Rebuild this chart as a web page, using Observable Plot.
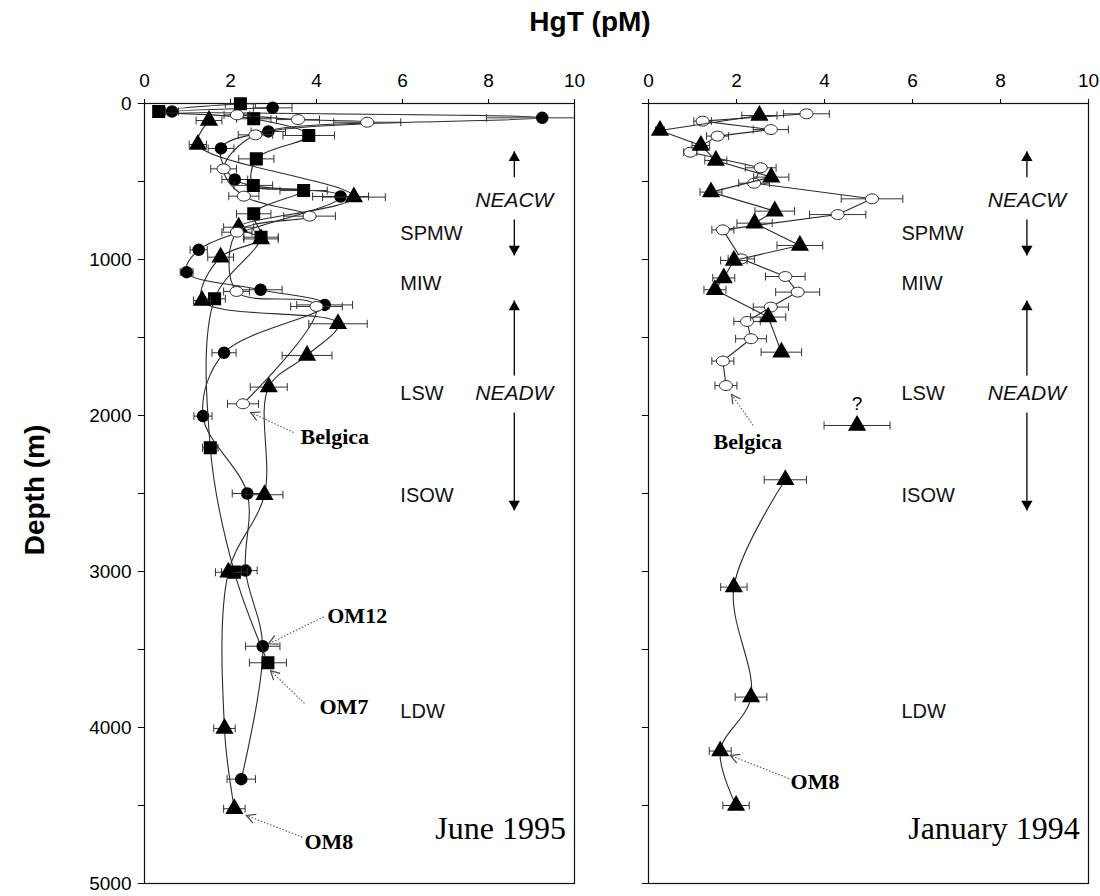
<!DOCTYPE html>
<html><head><meta charset="utf-8">
<script src="https://cdn.jsdelivr.net/npm/d3@7"></script>
<script src="https://cdn.jsdelivr.net/npm/@observablehq/plot@0.6"></script>
<style>
body{margin:0;background:#fff;}
#wrap{position:relative;width:1100px;height:896px;overflow:hidden;font-family:Arial,"Liberation Sans",sans-serif;color:#000;}
#title{position:absolute;left:440px;width:300px;top:4px;text-align:center;font-weight:bold;font-size:28px;line-height:36px;}
#ylab{position:absolute;left:-115px;top:472px;width:300px;height:36px;line-height:36px;text-align:center;font-weight:bold;font-size:28px;transform:rotate(-90deg);}
#p1{position:absolute;left:0;top:60px;}
#p2{position:absolute;left:590px;top:60px;}
</style></head>
<body><div id="wrap"><div id="title">HgT (pM)</div><div id="ylab">Depth (m)</div><div id="p1"></div><div id="p2"></div></div>
<script>
// ---------- axes ----------
const xTicks = [0, 2, 4, 6, 8, 10];
const depthTicks = [0, 500, 1000, 1500, 2000, 2500, 3000, 3500, 4000, 4500, 5000];

// ---------- June 1995 (left) ----------
const om12Depth = [28, 51, 92, 179, 288, 487, 596, 938, 1081, 1194, 1291, 1598, 2004, 2500, 2994, 3479, 4331];
const om12HgT   = [2.98, 0.64, 9.25, 2.88, 1.78, 2.10, 4.56, 1.26, 0.98, 2.70, 4.19, 1.85, 1.36, 2.39, 2.35, 2.75, 2.25];
const om12Err   = [0.45, 0.15, 1.3, 0.4, 0.3, 0.3, 0.65, 0.2, 0.15, 0.5, 0.65, 0.28, 0.21, 0.35, 0.27, 0.4, 0.33];

const om7Depth = [2, 51, 98, 205, 355, 525, 558, 707, 857, 1252, 2207, 3004, 3585];
const om7HgT   = [2.23, 0.33, 2.54, 3.82, 2.60, 2.53, 3.70, 2.54, 2.71, 1.63, 1.53, 2.09, 2.87];
const om7Err   = [0.35, 0.1, 0.4, 0.6, 0.41, 0.45, 0.55, 0.4, 0.4, 0.25, 0.18, 0.3, 0.43];

const om8Depth = [109, 263, 600, 793, 868, 985, 1263, 1412, 1615, 1818, 2508, 3005, 4006, 4521];
const om8HgT   = [1.50, 1.24, 4.87, 2.19, 2.71, 1.77, 1.34, 4.50, 3.78, 2.89, 2.79, 1.95, 1.86, 2.09];
const om8Err   = [0.3, 0.2, 0.73, 0.35, 0.4, 0.3, 0.2, 0.68, 0.58, 0.43, 0.43, 0.3, 0.25, 0.25];

const belDepth = [73, 103, 120, 201, 419, 594, 722, 825, 1205, 1301, 1925];
const belHgT   = [2.15, 3.57, 5.18, 2.58, 1.84, 2.31, 3.84, 2.15, 2.14, 4.0, 2.29];
const belErr   = [0.3, 0.5, 0.78, 0.4, 0.3, 0.35, 0.6, 0.35, 0.3, 0.6, 0.36];

// ---------- January 1994 (right) ----------
const janTriDepth = [77, 173, 269, 365, 472, 568, 690, 767, 910, 1006, 1118, 1194, 1369, 1594];
const janTriHgT   = [2.52, 0.26, 1.19, 1.53, 2.79, 1.42, 2.87, 2.41, 3.44, 1.94, 1.71, 1.51, 2.72, 3.02];
const janTriErr   = [0.4, 0.1, 0.2, 0.25, 0.4, 0.25, 0.45, 0.4, 0.52, 0.3, 0.25, 0.25, 0.4, 0.46];

const janDeepDepth = [2412, 3100, 3805, 4151, 4500];
const janDeepHgT   = [3.11, 1.94, 2.33, 1.63, 1.99];
const janDeepErr   = [0.48, 0.3, 0.36, 0.25, 0.3];

const janQDepth = [2064];
const janQHgT   = [4.74];
const janQErr   = [0.75];

const janBelDepth = [66, 113, 167, 209, 312, 412, 511, 611, 712, 810, 996, 1109, 1209, 1305, 1397, 1508, 1651, 1808];
const janBelHgT   = [3.59, 1.23, 2.78, 1.57, 0.95, 2.55, 2.40, 5.08, 4.30, 1.69, 2.11, 3.11, 3.39, 2.78, 2.24, 2.33, 1.69, 1.76];
const janBelErr   = [0.52, 0.2, 0.4, 0.25, 0.15, 0.35, 0.35, 0.7, 0.64, 0.25, 0.3, 0.45, 0.5, 0.4, 0.3, 0.35, 0.25, 0.25];

// ---------- water masses ----------
const massNames = ["SPMW", "MIW", "LSW", "ISOW", "LDW"];
const massDepth = [835, 1154, 1859, 2513, 3900];
const zoneNames = ["NEACW", "NEADW"];
const zoneTextDepth = [622, 1859];
const zoneUpTip = [306, 1263];
const zoneUpBase = [472, 1744];
const zoneDownBase = [744, 1981];
const zoneDownTip = [974, 2609];

// ---------- station annotations ----------
const leftStations = ["Belgica", "OM12", "OM7", "OM8"];
const leftStationTextX = [3.63, 4.25, 4.07, 3.72];
const leftStationTextD = [2135, 3282, 3870, 4735];
const leftStationFromX = [3.47, 4.17, 3.72, 3.67];
const leftStationFromD = [2109, 3290, 3846, 4703];
const leftStationToX = [2.47, 2.89, 2.93, 2.37];
const leftStationToD = [1981, 3463, 3635, 4564];

const rightStations = ["Belgica", "OM8"];
const rightStationTextX = [1.48, 3.23];
const rightStationTextD = [2171, 4350];
const rightStationFromX = [2.38, 3.19];
const rightStationFromD = [2064, 4327];
const rightStationToX = [1.89, 1.86];
const rightStationToD = [1865, 4179];

const seasons = ["June 1995", "January 1994"];

// ---------- helpers ----------
const rows = (depth, hgt, err) => depth.map((d, i) => ({d, v: hgt[i], e: err[i]}));
const capSymbol = {draw(ctx, size) { const r = Math.sqrt(size / Math.PI); ctx.moveTo(0, -r); ctx.lineTo(0, r); }};
const chevronSymbol = {draw(ctx, size) {
  const L = Math.sqrt(size / Math.PI), a = 28 * Math.PI / 180;
  ctx.moveTo(-L * Math.cos(a), -L * Math.sin(a));
  ctx.lineTo(0, 0);
  ctx.lineTo(-L * Math.cos(a), L * Math.sin(a));
}};
const ellipseSymbol = {draw(ctx, size) {
  const r = Math.sqrt(size / Math.PI), rx = r * 1.25, ry = r * 0.95, k = 0.5523;
  ctx.moveTo(rx, 0);
  ctx.bezierCurveTo(rx, ry * k, rx * k, ry, 0, ry);
  ctx.bezierCurveTo(-rx * k, ry, -rx, ry * k, -rx, 0);
  ctx.bezierCurveTo(-rx, -ry * k, -rx * k, -ry, 0, -ry);
  ctx.bezierCurveTo(rx * k, -ry, rx, -ry * k, rx, 0);
  ctx.closePath();
}};
const styles = {
  circle: {symbol: "circle", r: 5.5, fill: "#000", stroke: "#000"},
  square: {symbol: "square", r: 6.5, fill: "#000", stroke: "#000"},
  triangle: {symbol: "triangle", r: 5.8, fill: "#000", stroke: "#000"},
  open: {symbol: ellipseSymbol, r: 5.2, fill: "#fff", stroke: "#222", strokeWidth: 1}
};

function series(data, kind, curve, drawLine = true) {
  const m = [];
  if (drawLine) m.push(Plot.line(data, {x: "v", y: "d", curve, stroke: "#2b2b2b", strokeWidth: 1.1}));
  m.push(Plot.link(data, {x1: d => d.v - d.e, x2: d => d.v + d.e, y1: "d", y2: "d", stroke: "#333", strokeWidth: 1, clip: "frame"}));
  m.push(Plot.dot(data, {x: d => d.v - d.e, y: "d", symbol: capSymbol, r: 4, fill: "none", stroke: "#333", strokeWidth: 1, clip: "frame"}));
  m.push(Plot.dot(data, {x: d => d.v + d.e, y: "d", symbol: capSymbol, r: 4, fill: "none", stroke: "#333", strokeWidth: 1, clip: "frame"}));
  m.push(Plot.dot(data, {x: "v", y: "d", ...styles[kind]}));
  return m;
}

const H = 836, MT = 43, MB = 13;
const ky = (H - MT - MB) / 5000;

function annotations(kx, massX, arrowX, names, tx, td, fx, fd, toX, toD, season) {
  const massData = massNames.map((n, i) => ({n, d: massDepth[i]}));
  const zones = zoneNames.map((n, i) => ({n, t: zoneTextDepth[i], ut: zoneUpTip[i], ub: zoneUpBase[i], db: zoneDownBase[i], dt: zoneDownTip[i]}));
  const st = names.map((n, i) => ({n, tx: tx[i], td: td[i], fx: fx[i], fd: fd[i], x: toX[i], d: toD[i]}));
  return [
    Plot.text(massData, {x: () => massX, y: "d", text: "n", textAnchor: "start", fontSize: 20, fontFamily: "Arial, Liberation Sans", fill: "#111"}),
    Plot.text(zones, {x: () => arrowX, y: "t", text: "n", fontSize: 21, fontStyle: "italic", fontFamily: "Arial, Liberation Sans", fill: "#111"}),
    Plot.link(zones, {x1: () => arrowX, x2: () => arrowX, y1: "ub", y2: "ut", stroke: "#000", strokeWidth: 1.3}),
    Plot.link(zones, {x1: () => arrowX, x2: () => arrowX, y1: "db", y2: "dt", stroke: "#000", strokeWidth: 1.3}),
    Plot.dot(zones, {x: () => arrowX, y: "ut", symbol: "triangle", r: 4.2, fill: "#000", dy: 6.5}),
    Plot.dot(zones, {x: () => arrowX, y: "dt", symbol: "triangle", r: 4.2, fill: "#000", rotate: 180, dy: -6.5}),
    Plot.link(st, {x1: "fx", y1: "fd", x2: "x", y2: "d", stroke: "#555", strokeWidth: 1.1, strokeDasharray: "1.5,1.8"}),
    Plot.dot(st, {x: "x", y: "d", symbol: chevronSymbol, r: 10, fill: "none", stroke: "#444", strokeWidth: 1.2,
      rotate: d => Math.atan2((d.d - d.fd) * ky, (d.x - d.fx) * kx) * 180 / Math.PI}),
    Plot.text(st, {x: "tx", y: "td", text: "n", textAnchor: "start", fontSize: 22, fontWeight: "bold", fontFamily: "Times New Roman, Liberation Serif, serif", fill: "#000"}),
    Plot.text([season], {x: () => 9.8, y: () => 4650, text: d => d, textAnchor: "end", fontSize: 32, fontFamily: "Times New Roman, Liberation Serif, serif", fill: "#000"})
  ];
}

function frameAxes(showLabels) {
  return [
    Plot.axisX({anchor: "top", ticks: xTicks, tickSize: 5, tickPadding: 12, fontSize: 19, label: null, tickFormat: d => String(d)}),
    Plot.axisY({anchor: "left", ticks: depthTicks, tickSize: 6, tickPadding: 7, fontSize: 19, label: null,
      tickFormat: d => showLabels && d % 1000 === 0 ? String(d) : ""}),
    Plot.frame({stroke: "#111", strokeWidth: 1.2})
  ];
}

const common = {
  height: H, marginTop: MT, marginBottom: MB,
  x: {domain: [0, 10], axis: null},
  y: {domain: [0, 5000], reverse: true, axis: null},
  style: {fontFamily: "Arial, Liberation Sans, sans-serif", fontSize: "19px", background: "transparent", color: "#000", overflow: "visible"}
};

const LW = 590, LML = 144, LMR = 16;
const RW = 510, RML = 58, RMR = 12;

const left = Plot.plot({
  ...common, width: LW, marginLeft: LML, marginRight: LMR,
  marks: [
    ...frameAxes(true),
    ...series(rows(om12Depth, om12HgT, om12Err), "circle", "catmull-rom"),
    ...series(rows(om7Depth, om7HgT, om7Err), "square", "catmull-rom"),
    ...series(rows(om8Depth, om8HgT, om8Err), "triangle", "catmull-rom"),
    ...series(rows(belDepth, belHgT, belErr), "open", "catmull-rom"),
    ...annotations((LW - LML - LMR) / 10, 5.95, 8.6, leftStations, leftStationTextX, leftStationTextD, leftStationFromX, leftStationFromD, leftStationToX, leftStationToD, seasons[0])
  ]
});

const right = Plot.plot({
  ...common, width: RW, marginLeft: RML, marginRight: RMR,
  marks: [
    ...frameAxes(false),
    ...series(rows(janBelDepth, janBelHgT, janBelErr), "open", "linear"),
    ...series(rows(janTriDepth, janTriHgT, janTriErr), "triangle", "linear"),
    ...series(rows(janDeepDepth, janDeepHgT, janDeepErr), "triangle", "catmull-rom"),
    ...series(rows(janQDepth, janQHgT, janQErr), "triangle", "linear", false),
    Plot.text(["?"], {x: () => janQHgT[0], y: () => janQDepth[0] - 140, text: d => d, fontSize: 19, fontFamily: "Arial, Liberation Sans"}),
    ...annotations((RW - RML - RMR) / 10, 5.75, 8.6, rightStations, rightStationTextX, rightStationTextD, rightStationFromX, rightStationFromD, rightStationToX, rightStationToD, seasons[1])
  ]
});

document.getElementById("p1").appendChild(left);
document.getElementById("p2").appendChild(right);
</script></body></html>
